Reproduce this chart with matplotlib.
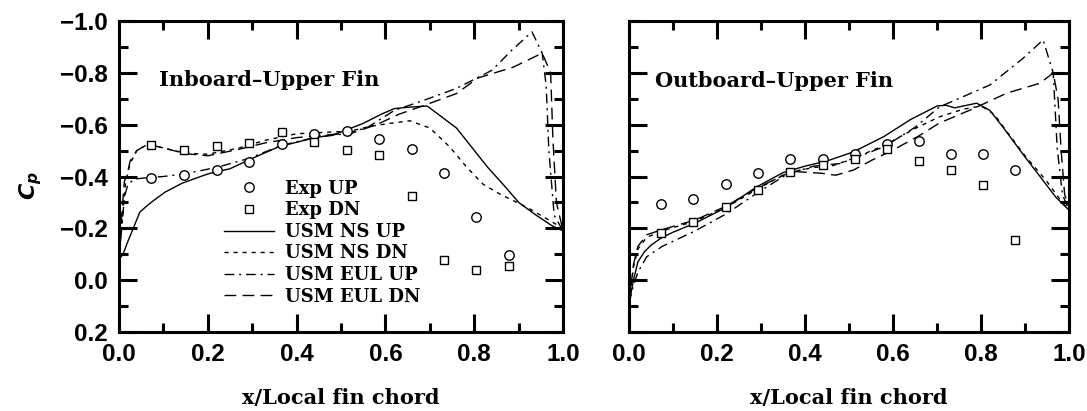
import numpy as np
import matplotlib
matplotlib.use("Agg")
import matplotlib.pyplot as plt
from matplotlib.ticker import MultipleLocator, FuncFormatter

# experimental stations (same for both fins)
x_exp = [0.073, 0.146, 0.22, 0.293, 0.366, 0.44, 0.513, 0.586, 0.659, 0.732, 0.805, 0.878]

# inboard-upper fin
in_exp_up = [-0.394, -0.407, -0.426, -0.456, -0.525, -0.564, -0.574, -0.544, -0.508, -0.415, -0.244, -0.099]
in_exp_dn = [-0.521, -0.502, -0.516, -0.531, -0.570, -0.533, -0.503, -0.484, -0.323, -0.077, -0.040, -0.054]

in_ns_up_x = [0, 0.009, 0.02, 0.032, 0.047, 0.065, 0.08, 0.104, 0.142, 0.2, 0.25, 0.3, 0.36, 0.43, 0.49,
              0.55, 0.59, 0.62, 0.65, 0.694, 0.76, 0.83, 0.87, 0.9, 0.94, 0.975, 1.0]
in_ns_up_y = [-0.08, -0.10, -0.15, -0.2, -0.263, -0.29, -0.31, -0.34, -0.374, -0.41, -0.43, -0.47, -0.515,
              -0.545, -0.565, -0.605, -0.64, -0.662, -0.667, -0.672, -0.587, -0.436, -0.36, -0.30, -0.25,
              -0.21, -0.19]
in_ns_dn_x = [0, 0.008, 0.015, 0.025, 0.04, 0.065, 0.1, 0.15, 0.2, 0.27, 0.33, 0.4, 0.46, 0.52, 0.57,
              0.61, 0.655, 0.70, 0.745, 0.783, 0.82, 0.86, 0.92, 0.97, 1.0]
in_ns_dn_y = [-0.08, -0.25, -0.38, -0.45, -0.50, -0.525, -0.51, -0.49, -0.486, -0.51, -0.54, -0.565, -0.57,
              -0.575, -0.595, -0.605, -0.615, -0.587, -0.514, -0.436, -0.37, -0.33, -0.28, -0.23, -0.20]
in_eul_up_x = [0, 0.006, 0.012, 0.02, 0.035, 0.06, 0.1, 0.146, 0.22, 0.293, 0.366, 0.44, 0.51, 0.56, 0.62,
               0.68, 0.76, 0.84, 0.885, 0.93, 0.953, 0.962, 0.968, 0.98, 1.0]
in_eul_up_y = [-0.08, -0.2, -0.32, -0.37, -0.39, -0.395, -0.4, -0.41, -0.435, -0.47, -0.52, -0.55, -0.565,
               -0.59, -0.655, -0.69, -0.74, -0.81, -0.888, -0.958, -0.876, -0.75, -0.5, -0.25, -0.19]
in_eul_dn_x = [0, 0.006, 0.012, 0.02, 0.025, 0.04, 0.065, 0.1, 0.15, 0.2, 0.27, 0.33, 0.4, 0.46, 0.52,
               0.58, 0.63, 0.68, 0.76, 0.808, 0.888, 0.953, 0.972, 0.977, 0.985, 1.0]
in_eul_dn_y = [-0.08, -0.25, -0.38, -0.42, -0.46, -0.50, -0.525, -0.51, -0.488, -0.48, -0.505, -0.53, -0.55,
               -0.56, -0.565, -0.60, -0.64, -0.67, -0.72, -0.78, -0.822, -0.876, -0.8, -0.55, -0.3, -0.19]

# outboard-upper fin
out_exp_up = [-0.295, -0.314, -0.370, -0.415, -0.467, -0.469, -0.487, -0.526, -0.537, -0.487, -0.485, -0.426]
out_exp_dn = [-0.182, -0.223, -0.282, -0.346, -0.419, -0.446, -0.467, -0.505, -0.460, -0.426, -0.368, -0.156]

out_ns_up_x = [0, 0.01, 0.02, 0.035, 0.05, 0.075, 0.1, 0.15, 0.22, 0.29, 0.35, 0.4, 0.45, 0.51, 0.58, 0.64,
               0.7, 0.72, 0.74, 0.79, 0.82, 0.85, 0.9, 0.934, 0.97, 1.0]
out_ns_up_y = [0.09, 0.0, -0.07, -0.11, -0.135, -0.165, -0.185, -0.22, -0.28, -0.36, -0.415, -0.44, -0.46,
               -0.495, -0.555, -0.62, -0.672, -0.675, -0.665, -0.683, -0.655, -0.59, -0.475, -0.40, -0.32,
               -0.27]
out_ns_dn_x = [0, 0.01, 0.02, 0.04, 0.075, 0.15, 0.22, 0.29, 0.36, 0.42, 0.46, 0.51, 0.58, 0.65, 0.705,
               0.76, 0.8, 0.83, 0.86, 0.9, 0.95, 0.98, 1.0]
out_ns_dn_y = [0.09, -0.05, -0.12, -0.165, -0.19, -0.228, -0.28, -0.35, -0.415, -0.435, -0.44, -0.47, -0.52,
               -0.585, -0.63, -0.66, -0.672, -0.64, -0.57, -0.48, -0.38, -0.31, -0.27]
out_eul_up_x = [0, 0.01, 0.02, 0.04, 0.075, 0.15, 0.22, 0.29, 0.36, 0.42, 0.48, 0.51, 0.58, 0.65, 0.705,
                0.82, 0.896, 0.941, 0.964, 0.973, 0.985, 1.0]
out_eul_up_y = [0.09, 0.02, -0.03, -0.09, -0.13, -0.19, -0.255, -0.335, -0.41, -0.44, -0.45, -0.47, -0.515,
                -0.59, -0.668, -0.753, -0.857, -0.927, -0.80, -0.51, -0.33, -0.27]
out_eul_dn_x = [0, 0.01, 0.02, 0.04, 0.075, 0.15, 0.22, 0.29, 0.37, 0.44, 0.47, 0.51, 0.553, 0.593, 0.656,
                0.705, 0.78, 0.859, 0.934, 0.964, 0.975, 0.982, 0.99, 1.0]
out_eul_dn_y = [0.09, -0.06, -0.13, -0.175, -0.195, -0.232, -0.285, -0.355, -0.42, -0.412, -0.405, -0.425,
                -0.464, -0.496, -0.554, -0.606, -0.66, -0.722, -0.76, -0.80, -0.7, -0.5, -0.33, -0.28]

titles = ["Inboard\u2013Upper Fin", "Outboard\u2013Upper Fin"]
title_pos = [(0.091, -0.772), (0.059, -0.768)]

ls_dot = (0, (3, 3.5))
ls_dashdot = (0, (7, 3.5, 1.5, 3.5))
ls_dash = (0, (8.5, 4.5))

serif = {"family": "DejaVu Serif", "weight": "bold"}


def fmt(v, pos):
    s = "%.1f" % v
    if s == "-0.0":
        s = "0.0"
    return s.replace("-", "\u2212")


fig = plt.figure(figsize=(10.87, 4.11), dpi=100)
ax1 = fig.add_axes([0.1095, 0.1922, 0.4085, 0.7567])
ax2 = fig.add_axes([0.5787, 0.1922, 0.4048, 0.7567])

panels = [
    (ax1, in_exp_up, in_exp_dn, (in_ns_up_x, in_ns_up_y), (in_ns_dn_x, in_ns_dn_y),
     (in_eul_up_x, in_eul_up_y), (in_eul_dn_x, in_eul_dn_y)),
    (ax2, out_exp_up, out_exp_dn, (out_ns_up_x, out_ns_up_y), (out_ns_dn_x, out_ns_dn_y),
     (out_eul_up_x, out_eul_up_y), (out_eul_dn_x, out_eul_dn_y)),
]

for i, (ax, eu, ed, nsu, nsd, eulu, euld) in enumerate(panels):
    ax.plot(x_exp, eu, ls="none", marker="o", ms=6.8, mfc="white", mec="black", mew=1.0,
            label="Exp UP", zorder=3)
    ax.plot(x_exp, ed, ls="none", marker="s", ms=6.0, mfc="white", mec="black", mew=1.0,
            label="Exp DN", zorder=3)
    ax.plot(nsu[0], nsu[1], color="black", lw=1.0, ls="-", label="USM NS UP")
    ax.plot(nsd[0], nsd[1], color="black", lw=1.0, ls=ls_dot, label="USM NS DN")
    ax.plot(eulu[0], eulu[1], color="black", lw=1.0, ls=ls_dashdot, label="USM EUL UP")
    ax.plot(euld[0], euld[1], color="black", lw=1.0, ls=ls_dash, label="USM EUL DN")

    ax.set_xlim(0, 1.0)
    ax.set_ylim(0.2, -1.0)
    ax.xaxis.set_major_locator(MultipleLocator(0.2))
    ax.xaxis.set_minor_locator(MultipleLocator(0.1))
    ax.yaxis.set_major_locator(MultipleLocator(0.2))
    ax.yaxis.set_minor_locator(MultipleLocator(0.1))
    ax.xaxis.set_major_formatter(FuncFormatter(fmt))
    ax.yaxis.set_major_formatter(FuncFormatter(fmt))
    ax.tick_params(which="both", direction="in", top=True, right=True, width=2.2)
    ax.tick_params(which="major", length=13, pad=8)
    ax.tick_params(which="minor", length=6.5)
    for sp in ax.spines.values():
        sp.set_linewidth(2.2)
    for lab in ax.get_xticklabels() + ax.get_yticklabels():
        lab.set_fontfamily("Liberation Sans")
        lab.set_fontweight("bold")
        lab.set_fontsize(17.5)
    ax.set_xlabel("x/Local fin chord", fontsize=15, labelpad=16, **serif)
    ax.text(title_pos[i][0], title_pos[i][1], titles[i], fontsize=15, va="center", ha="left", **serif)

ax2.tick_params(labelleft=False)

ax1.set_ylabel(r"$\mathbfit{C}_\mathbfit{p}$", fontsize=16, rotation=90)
ax1.yaxis.set_label_coords(-0.17, 0.47)

leg = ax1.legend(loc="upper left", bbox_to_anchor=(0.236, 0.49), frameon=False, numpoints=1,
                 handlelength=2.77, handletextpad=0.6, labelspacing=0.2, borderpad=0,
                 borderaxespad=0, prop={"family": "DejaVu Serif", "weight": "bold", "size": 13})

fig.savefig("out.png", dpi=100)
